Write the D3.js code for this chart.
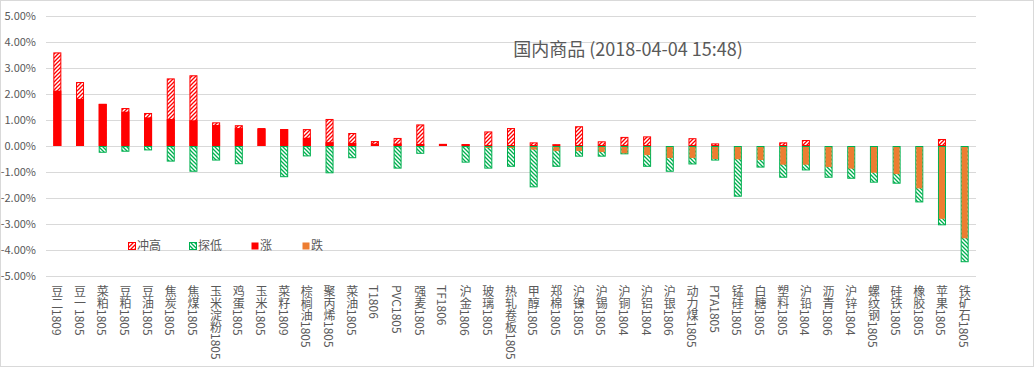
<!DOCTYPE html>
<html>
<head>
<meta charset="utf-8">
<script src="https://cdn.jsdelivr.net/npm/d3@7/dist/d3.min.js"></script>
<style>
  html, body { margin: 0; padding: 0; background: #fff; }
  svg { display: block; }
</style>
</head>
<body>
<svg id="chart" width="1034" height="367"></svg>
<script>
// ---------------- data ----------------
const title = "国内商品 (2018-04-04 15:48)";
const categories = ["豆二1809","豆一1805","菜粕1805","豆粕1805","豆油1805","焦炭1805","焦煤1805","玉米淀粉1805","鸡蛋1805","玉米1805",
  "菜籽1809","棕榈油1805","聚丙烯1805","菜油1805","T1806","PVC1805","强麦1805","TF1806","沪金1806","玻璃1805",
  "热轧卷板1805","甲醇1805","郑棉1805","沪镍1805","沪锡1805","沪铜1804","沪铝1804","沪银1806","动力煤1805","PTA1805",
  "锰硅1805","白糖1805","塑料1805","沪铅1804","沥青1806","沪锌1804","螺纹钢1805","硅铁1805","橡胶1805","苹果1805","铁矿石1805"];
// intraday high (冲高), in %
const highs = [3.60, 2.46, 1.62, 1.46, 1.27, 2.60, 2.72, 0.91, 0.80, 0.69,
  0.65, 0.65, 1.04, 0.50, 0.19, 0.31, 0.83, 0.08, 0.07, 0.56,
  0.69, 0.14, 0.07, 0.76, 0.18, 0.35, 0.37, 0, 0.30, 0.10,
  0, 0, 0.14, 0.23, 0, 0, 0.03, 0, 0, 0.27, 0];
// close change (涨 / 跌), in %
const closes = [2.13, 1.81, 1.62, 1.32, 1.10, 1.04, 0.99, 0.81, 0.69, 0.66,
  0.65, 0.32, 0.15, 0.12, 0.09, 0.09, 0.08, 0.08, 0.07, -0.03,
  -0.06, -0.14, -0.19, -0.19, -0.23, -0.28, -0.35, -0.46, -0.46, -0.50,
  -0.51, -0.54, -0.72, -0.72, -0.81, -0.87, -1.03, -1.08, -1.63, -2.80, -3.55];
// intraday low (探低), in %
const lows = [0, 0, -0.26, -0.22, -0.17, -0.60, -0.99, -0.56, -0.70, 0,
  -1.20, -0.40, -1.05, -0.47, -0.03, -0.87, -0.30, -0.03, -0.64, -0.87,
  -0.80, -1.59, -0.80, -0.41, -0.41, -0.32, -0.80, -0.99, -0.71, -0.56,
  -1.95, -0.83, -1.22, -0.94, -1.22, -1.26, -1.41, -1.45, -2.17, -3.05, -4.47];
const legendLabels = ["冲高", "探低", "涨", "跌"];
const yDomain = [-5, 5];

// ---------------- layout ----------------
const W = 1034, H = 367;
const plot = { left: 46, right: 976, top: 16, bottom: 276 };
const RED = "#FF0000", ORANGE = "#ED7D31", GREEN = "#00B050", GRID = "#D9D9D9", TEXT = "#595959";
const FONT = "'Noto Sans CJK SC', 'Noto Sans', sans-serif";

const svg = d3.select("#chart");

// chart area border
svg.append("rect").attr("x", 0.5).attr("y", 0.5).attr("width", W - 1).attr("height", H - 1)
  .attr("fill", "#fff").attr("stroke", GRID);

// patterns
const defs = svg.append("defs");
const pUp = defs.append("pattern").attr("id", "hatchUp").attr("patternUnits", "userSpaceOnUse")
  .attr("width", 4).attr("height", 4);
pUp.append("rect").attr("width", 4).attr("height", 4).attr("fill", "#fff");
pUp.append("path").attr("d", "M-1,1 l2,-2 M0,4 l4,-4 M3,5 l2,-2").attr("stroke", RED).attr("stroke-width", 1.3);
const pDn = defs.append("pattern").attr("id", "hatchDn").attr("patternUnits", "userSpaceOnUse")
  .attr("width", 4).attr("height", 4);
pDn.append("rect").attr("width", 4).attr("height", 4).attr("fill", "#fff");
pDn.append("path").attr("d", "M-1,3 l2,2 M0,0 l4,4 M3,-1 l2,2").attr("stroke", GREEN).attr("stroke-width", 1.3);

// scales
const x = d3.scaleBand().domain(categories).range([plot.left, plot.right])
  .paddingInner(0.647).paddingOuter(0.3235);
const y = d3.scaleLinear().domain(yDomain).range([plot.bottom, plot.top]);
const bw = x.bandwidth();
const y0 = y(0);

// gridlines + y labels
const yTicks = y.ticks(10);
const gGrid = svg.append("g");
gGrid.selectAll("line").data(yTicks).join("line")
  .attr("x1", plot.left).attr("x2", plot.right)
  .attr("y1", d => Math.round(y(d)) + 0.5).attr("y2", d => Math.round(y(d)) + 0.5)
  .attr("stroke", GRID).attr("stroke-width", 1);
const yAxis = d3.axisLeft(y).tickValues(yTicks).tickSize(0).tickPadding(0)
  .tickFormat(d => d.toFixed(2) + "%");
const gY = svg.append("g").attr("transform", `translate(${plot.left - 10},0)`).call(yAxis);
gY.select(".domain").remove();
gY.selectAll("text").attr("fill", TEXT).style("font-family", FONT).style("font-size", "11px");

const rows = categories.map((c, i) => ({ c, high: highs[i], close: closes[i], low: lows[i] }));

// 冲高 (hatched, 0 -> high)
svg.append("g").selectAll("rect").data(rows.filter(d => d.high > 0)).join("rect")
  .attr("x", d => x(d.c) + 0.5).attr("y", d => y(d.high) + 0.5)
  .attr("width", bw - 1).attr("height", d => Math.max(0, y0 - y(d.high) - 1))
  .attr("fill", "url(#hatchUp)").attr("stroke", RED).attr("stroke-width", 1);
// 探低 (hatched, 0 -> low)
svg.append("g").selectAll("rect").data(rows.filter(d => d.low < 0)).join("rect")
  .attr("x", d => x(d.c) + 0.5).attr("y", y0 + 0.5)
  .attr("width", bw - 1).attr("height", d => Math.max(0, y(d.low) - y0 - 1))
  .attr("fill", "url(#hatchDn)").attr("stroke", GREEN).attr("stroke-width", 1);
// 涨 (solid red)
svg.append("g").selectAll("rect").data(rows.filter(d => d.close > 0)).join("rect")
  .attr("x", d => x(d.c)).attr("y", d => y(d.close))
  .attr("width", bw).attr("height", d => y0 - y(d.close))
  .attr("fill", RED);
// 跌 (solid orange)
svg.append("g").selectAll("rect").data(rows.filter(d => d.close < 0)).join("rect")
  .attr("x", d => x(d.c) + 1).attr("y", y0 + 1)
  .attr("width", bw - 2).attr("height", d => Math.max(1, y(d.close) - y0 - 1))
  .attr("fill", ORANGE);

// x labels (vertical)
svg.append("g").selectAll("text").data(categories).join("text")
  .attr("x", d => x(d) + bw / 2).attr("y", 285)
  .style("writing-mode", "vertical-rl").style("text-orientation", "mixed")
  .style("font-family", FONT).style("font-size", "12px")
  .attr("fill", TEXT).text(d => d);

// title
svg.append("text").attr("x", 628).attr("y", 50).attr("dy", "0.35em")
  .attr("text-anchor", "middle").attr("fill", TEXT)
  .style("font-family", FONT).style("font-size", "18px").text(title);

// legend
const legendX = [128, 189, 251, 302];
const legendFill = ["url(#hatchUp)", "url(#hatchDn)", RED, ORANGE];
const legendStroke = [RED, GREEN, "none", "none"];
const gL = svg.append("g");
legendLabels.forEach((lab, i) => {
  gL.append("rect").attr("x", legendX[i] + 0.5).attr("y", 242.5).attr("width", 7).attr("height", 7)
    .attr("fill", legendFill[i]).attr("stroke", legendStroke[i]).attr("stroke-width", 1);
  gL.append("text").attr("x", legendX[i] + 9).attr("y", 246).attr("dy", "0.35em")
    .attr("fill", TEXT).style("font-family", FONT).style("font-size", "12px").text(lab);
});
</script>
</body>
</html>
